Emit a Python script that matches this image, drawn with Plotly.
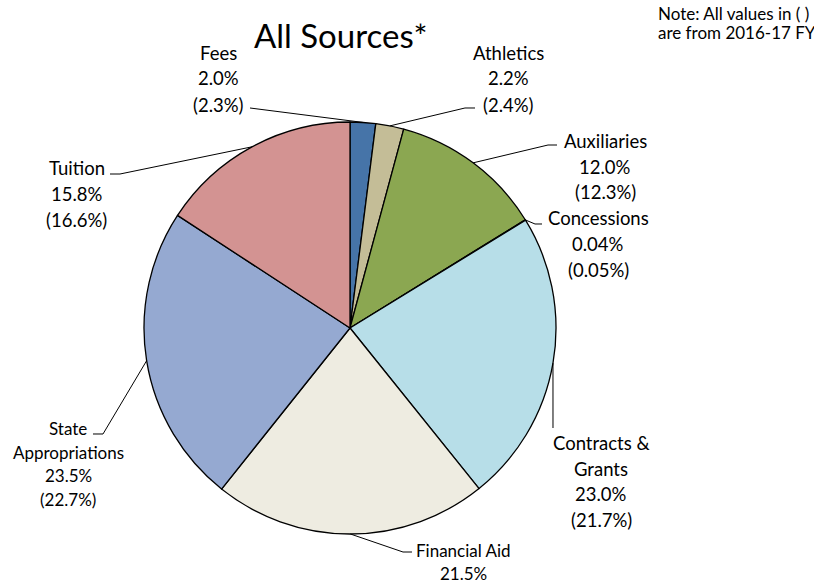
import math
import plotly.graph_objects as go

# ---- data ----
categories = ["Fees", "Athletics", "Auxiliaries", "Concessions",
              "Contracts & Grants", "Financial Aid", "State Appropriations", "Tuition"]
current_pct = [2.0, 2.2, 12.0, 0.04, 23.0, 21.5, 23.5, 15.8]
prior_pct = [2.3, 2.4, 12.3, 0.05, 21.7, None, 22.7, 16.6]
label_names = [["Fees"], ["Athletics"], ["Auxiliaries"], ["Concessions"],
               ["Contracts &", "Grants"], ["Financial Aid"], ["State", "Appropriations"], ["Tuition"]]
colors = ["#4674A8", "#C4BD97", "#8BA751", "#F79646",
          "#B7DEE8", "#EEECE1", "#95A9D1", "#D39392"]
title_text = "All Sources*"
note_lines = ["Note: All values in ( )", "are from 2016-17 FY"]

# ---- layout constants (pixels) ----
W, H = 814, 584
CX, CY, R = 350, 328, 206
FONT = "Lato, Carlito, 'Open Sans', sans-serif"

# label block: center x, first-line y, line spacing, font size
label_layout = [
    (218, 52.5, 26, 18.5),
    (508, 52.5, 26, 18.5),
    (605, 140.5, 26, 18.5),
    (598, 218, 26, 18.5),
    (601, 443, 25.7, 18.5),
    (463.5, 550, 23.5, 17),
    (68, 428.5, 23.5, 17),
    (76.5, 168, 26, 18.5),
]
# leader-line attach points near labels (pixels)
leader_attach = [
    [(250, 108)],
    [(475, 108), (465, 108)],
    [(557, 145), (548, 145)],
    [(542, 224), (535, 224)],
    [(553, 428)],
    [(412, 552), (403, 552)],
    [(93, 434), (103, 434)],
    [(110, 174), (120, 174)],
]


def px(x):
    return x / W


def py(y):
    return 1 - y / H


fig = go.Figure(go.Pie(
    labels=categories,
    values=current_pct,
    sort=False,
    direction="clockwise",
    rotation=0,
    marker=dict(colors=colors, line=dict(color="black", width=1.3)),
    textinfo="none",
    hoverinfo="none",
    showlegend=False,
    domain=dict(x=[px(CX - R), px(CX + R)], y=[py(CY + R), py(CY - R)]),
))

annotations = []
shapes = []
total = sum(current_pct)
cum = 0.0
for i, v in enumerate(current_pct):
    mid = (cum + v / 2) / total * 2 * math.pi
    cum += v
    ex = CX + R * math.sin(mid)
    ey = CY - R * math.cos(mid)
    pts = leader_attach[i] + [(ex, ey)]
    path = "M " + " L ".join(f"{px(a):.5f},{py(b):.5f}" for a, b in pts)
    shapes.append(dict(type="path", path=path, xref="paper", yref="paper",
                       line=dict(color="black", width=1)))

    lines = list(label_names[i]) + [f"{v}%"]
    if prior_pct[i] is not None:
        lines.append(f"({prior_pct[i]}%)")
    lx, ly0, dy, fs = label_layout[i]
    for k, t in enumerate(lines):
        annotations.append(dict(text=t, x=px(lx), y=py(ly0 + k * dy), xref="paper", yref="paper",
                                xanchor="center", yanchor="middle", showarrow=False,
                                font=dict(family=FONT, size=fs, color="black")))

annotations.append(dict(text=title_text, x=px(340), y=py(35), xref="paper", yref="paper",
                        xanchor="center", yanchor="middle", showarrow=False,
                        font=dict(family=FONT, size=33, color="black")))
for k, t in enumerate(note_lines):
    annotations.append(dict(text=t, x=px(656), y=py(14 + k * 19), xref="paper", yref="paper",
                            xanchor="left", yanchor="middle", showarrow=False,
                            font=dict(family=FONT, size=17, color="black")))

fig.update_layout(
    width=W, height=H,
    margin=dict(l=0, r=0, t=0, b=0),
    paper_bgcolor="white", plot_bgcolor="white",
    annotations=annotations, shapes=shapes,
)
fig.write_html("out.html")
